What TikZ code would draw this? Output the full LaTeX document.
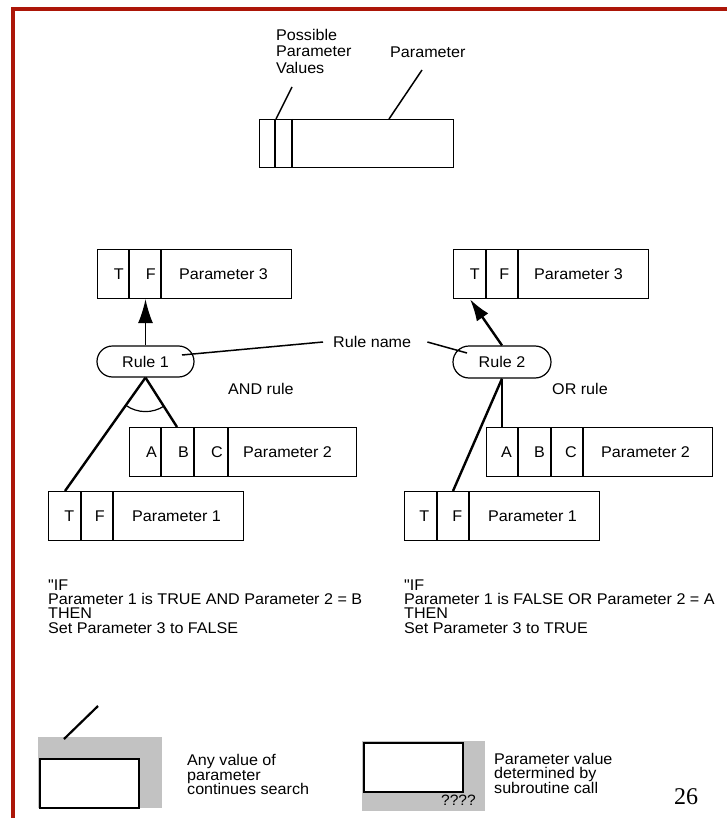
\documentclass[tikz,border=0pt]{standalone}
\usepackage{fontspec}
\setmainfont[FakeStretch=1.04,Ligatures=TeXOff]{Liberation Sans}
\newfontfamily\serifnum{Liberation Serif}
\usetikzlibrary{arrows.meta,shapes.misc,calc}
\definecolor{framered}{RGB}{172,22,8}
\definecolor{shadegray}{RGB}{194,194,194}
\begin{document}
\begin{tikzpicture}[x=1pt,y=1pt,
  font=\fontsize{15.5}{17}\selectfont,
  pbox/.style={draw,line width=1.2pt,inner sep=0pt,anchor=north west,minimum height=49pt},
  lbl/.style={inner sep=0pt,anchor=west},
  cell/.style={inner sep=0pt,anchor=east},
  divider/.style={line width=1.2pt},
  rulebox/.style={draw,rounded rectangle,line width=1.2pt,minimum width=97pt,minimum height=31pt,inner sep=0pt},
  heavy/.style={line width=2.4pt},
  leader/.style={line width=1.5pt},
  para/.style={inner sep=0pt,anchor=west,align=left,font=\fontsize{15.5}{14.2}\selectfont},
  whitebox/.style={draw,fill=white,line width=1.5pt,inner sep=0pt,anchor=north west,minimum width=99pt,minimum height=49pt}
]
\useasboundingbox (0,0) rectangle (727,-818);
% frame
\draw[framered,line width=4pt] (13,-818) -- (13,-9) -- (727,-9);

% ---- top legend box
\node[pbox,minimum width=194pt,minimum height=48pt] (top) at (259,-119) {};
\draw[divider] ($(top.north west)+(16,0)$) -- ($(top.south west)+(16,0)$);
\draw[divider] ($(top.north west)+(33,0)$) -- ($(top.south west)+(33,0)$);
\node[para,font=\fontsize{15.5}{16.5}\selectfont] (ppv) at (276,-51) {Possible\\Parameter\\Values};
\node[lbl] (ptxt) at (390,-52) {Parameter};
\coordinate (ppvend) at (292,-87);
\coordinate (ptxtend) at (422,-70);
\draw[leader] ($(top.north west)+(17,0)$) -- (ppvend);
\draw[leader] ($(top.north west)+(130,0)$) -- (ptxtend);

% ---- left group
\node[pbox,minimum width=194pt] (p3l) at (97,-249) {};
\draw[divider] ($(p3l.north west)+(32,0)$) -- ($(p3l.south west)+(32,0)$);
\draw[divider] ($(p3l.north west)+(64,0)$) -- ($(p3l.south west)+(64,0)$);
\node[cell] (p3lT) at ($(p3l.west)+(27,0)$) {T};
\node[cell] (p3lF) at ($(p3l.west)+(59,0)$) {F};
\node[lbl] (p3lN) at ($(p3l.west)+(82,0)$) {Parameter 3};

\node[rulebox] (r1) at (145.5,-361.5) {Rule 1};

\node[pbox,minimum width=227pt] (p2l) at (129,-427) {};
\draw[divider] ($(p2l.north west)+(32,0)$) -- ($(p2l.south west)+(32,0)$);
\draw[divider] ($(p2l.north west)+(65,0)$) -- ($(p2l.south west)+(65,0)$);
\draw[divider] ($(p2l.north west)+(99,0)$) -- ($(p2l.south west)+(99,0)$);
\node[cell] (p2lA) at ($(p2l.west)+(28,0)$) {A};
\node[cell] (p2lB) at ($(p2l.west)+(60,0)$) {B};
\node[cell] (p2lC) at ($(p2l.west)+(94,0)$) {C};
\node[lbl] (p2lN) at ($(p2l.west)+(114,0)$) {Parameter 2};

\node[pbox,minimum width=195pt] (p1l) at (48,-491) {};
\draw[divider] ($(p1l.north west)+(33,0)$) -- ($(p1l.south west)+(33,0)$);
\draw[divider] ($(p1l.north west)+(65,0)$) -- ($(p1l.south west)+(65,0)$);
\node[cell] (p1lT) at ($(p1l.west)+(26.5,0)$) {T};
\node[cell] (p1lF) at ($(p1l.west)+(57,0)$) {F};
\node[lbl] (p1lN) at ($(p1l.west)+(84,0)$) {Parameter 1};

\draw[line width=1.2pt,-{Latex[length=24pt,width=15pt]}] (r1.north) -- (r1.north |- p3l.south);
\draw[heavy] (r1.south) -- ($(p1l.north west)+(17,0)$);
\draw[heavy] (r1.south) -- ($(p2l.north west)+(48,0)$);
\draw[line width=1.2pt] ([shift={(235:34pt)}]r1.south) arc[start angle=235,end angle=303,radius=34pt];
\node[lbl] (andr) at (228,-389) {AND rule};

% ---- right group
\node[pbox,minimum width=195pt] (p3r) at (453,-249) {};
\draw[divider] ($(p3r.north west)+(33,0)$) -- ($(p3r.south west)+(33,0)$);
\draw[divider] ($(p3r.north west)+(65,0)$) -- ($(p3r.south west)+(65,0)$);
\node[cell] (p3rT) at ($(p3r.west)+(27,0)$) {T};
\node[cell] (p3rF) at ($(p3r.west)+(56.5,0)$) {F};
\node[lbl] (p3rN) at ($(p3r.west)+(81,0)$) {Parameter 3};

\node[rulebox,minimum width=98pt,minimum height=32pt] (r2) at (502,-362) {Rule 2};

\node[pbox,minimum width=226pt] (p2r) at (486,-427) {};
\draw[divider] ($(p2r.north west)+(32,0)$) -- ($(p2r.south west)+(32,0)$);
\draw[divider] ($(p2r.north west)+(65,0)$) -- ($(p2r.south west)+(65,0)$);
\draw[divider] ($(p2r.north west)+(97,0)$) -- ($(p2r.south west)+(97,0)$);
\node[cell] (p2rA) at ($(p2r.west)+(26,0)$) {A};
\node[cell] (p2rB) at ($(p2r.west)+(59,0)$) {B};
\node[cell] (p2rC) at ($(p2r.west)+(91,0)$) {C};
\node[lbl] (p2rN) at ($(p2r.west)+(115,0)$) {Parameter 2};

\node[pbox,minimum width=195pt] (p1r) at (404,-491) {};
\draw[divider] ($(p1r.north west)+(33,0)$) -- ($(p1r.south west)+(33,0)$);
\draw[divider] ($(p1r.north west)+(65,0)$) -- ($(p1r.south west)+(65,0)$);
\node[cell] (p1rT) at ($(p1r.west)+(25.5,0)$) {T};
\node[cell] (p1rF) at ($(p1r.west)+(58.5,0)$) {F};
\node[lbl] (p1rN) at ($(p1r.west)+(84,0)$) {Parameter 1};

\draw[heavy,-{Latex[length=22pt,width=14pt]}] (r2.north) -- ($(p3r.south west)+(17,0)$);
\draw[heavy] (r2.south) -- ($(p1r.north west)+(49,0)$);
\draw[line width=1.2pt] (r2.south) -- (r2.south |- p2r.north);
\node[lbl] (orr) at (552,-389) {OR rule};

% ---- rule name
\node[lbl] (rn) at (333,-342) {Rule name};
\draw[leader] ($(rn.west)+(-10,0)$) -- ($(r1.center)+(36.5,6.5)$);
\draw[leader] ($(rn.east)+(16,0)$) -- ($(r2.center)+(-35,9)$);

% ---- conditions
\node[para] (condl) at (48,-606.5) {"IF\\Parameter 1 is TRUE AND Parameter 2 = B\\THEN\\Set Parameter 3 to FALSE};
\node[para] (condr) at (404,-606.5) {"IF\\Parameter 1 is FALSE OR Parameter 2 = A\\THEN\\Set Parameter 3 to TRUE};

% ---- bottom legend
\fill[shadegray] (38,-737) rectangle (162,-808);
\node[whitebox] (wb1) at (39,-758) {};
\coordinate (wb1end) at (98,-706);
\draw[line width=2.2pt] (64,-739) -- (wb1end);
\node[para,font=\fontsize{15.5}{14.5}\selectfont] (anyv) at (187,-774.5) {Any value of\\parameter\\continues search};

\fill[shadegray] (362,-741) rectangle (485,-811);
\node[whitebox] (wb2) at (363,-742) {};
\node[inner sep=0pt,anchor=east,font=\fontsize{15}{15}\selectfont] (qq) at (476,-800) {????};
\node[para,font=\fontsize{15.5}{14.5}\selectfont] (subr) at (494,-773) {Parameter value\\determined by\\subroutine call};

\node[inner sep=0pt,font=\serifnum\fontsize{24}{24}\selectfont] (pgnum) at (686,-797) {26};
\end{tikzpicture}
\end{document}
